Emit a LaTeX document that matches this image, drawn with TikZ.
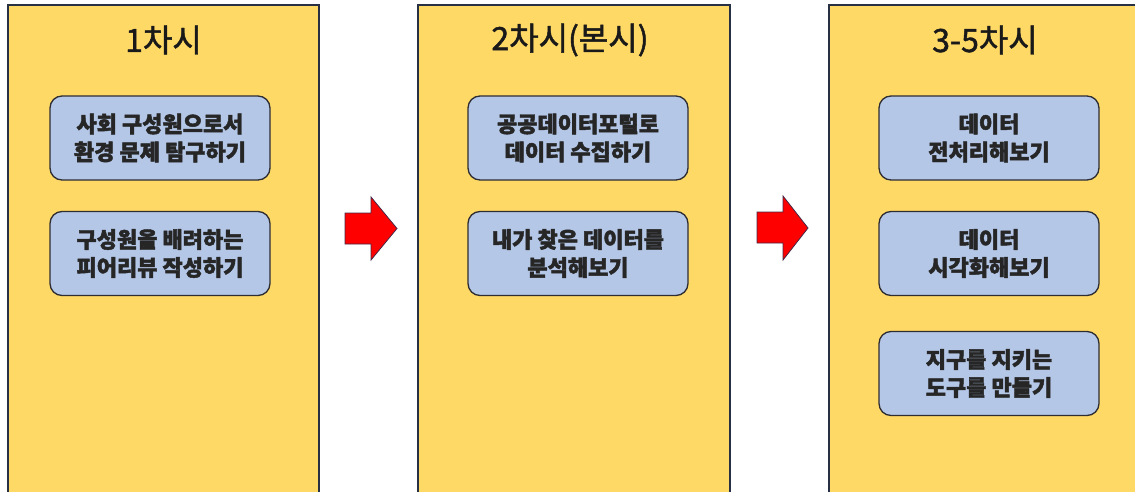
\documentclass[tikz,border=0pt]{standalone}
\usepackage{fontspec}
\newfontfamily\kr[BoldFeatures={FakeBold=2}]{Noto Sans CJK KR}
\newfontfamily\krt[FakeBold=1.5]{Noto Sans CJK KR}
\usetikzlibrary{positioning}
\definecolor{panelfill}{RGB}{255,217,102}
\definecolor{paneldraw}{RGB}{40,48,68}
\definecolor{boxfill}{RGB}{180,199,231}
\definecolor{boxdraw}{RGB}{45,45,50}
\definecolor{arrowred}{RGB}{255,0,0}
\definecolor{arrowdraw}{RGB}{70,40,70}
\tikzset{
  panel/.style={fill=panelfill, draw=paneldraw, line width=1.5pt},
  title/.style={font=\krt\fontsize{32}{36}\selectfont, text=black!90, anchor=center},
  stepbox/.style={draw=boxdraw, fill=boxfill, line width=1.3pt, rounded corners=12pt,
    minimum width=220pt, minimum height=84pt, align=center, inner sep=0pt,
    font=\kr\bfseries\fontsize{22}{28}\selectfont, text=black!85},
  blockarrow/.style={fill=arrowred, draw=arrowdraw, line width=0.8pt, line join=miter}
}
\begin{document}
\begin{tikzpicture}[x=1pt,y=-1pt]
\useasboundingbox (0,0) rectangle (1135,492);
\clip (0,0) rectangle (1135,492);
\fill[white] (0,0) rectangle (1135,492);
% panels
\draw[panel] (8,5) rectangle (319,520);
\draw[panel] (418,5) rectangle (730,520);
\draw[panel] (829,5) rectangle (1145,520);
% titles
\node[title] (t1) at (163.5,40) {1차시};
\node[title] (t2) at (570,40) {2차시(본시)};
\node[title] (t3) at (985,40) {3-5차시};
% boxes
\node[stepbox] (a1) at (160,138) {사회 구성원으로서\\환경 문제 탐구하기};
\node[stepbox] (a2) at (160,253.5) {구성원을 배려하는\\피어리뷰 작성하기};
\node[stepbox] (b1) at (578,138) {공공데이터포털로\\데이터 수집하기};
\node[stepbox] (b2) at (578,253.5) {내가 찾은 데이터를\\분석해보기};
\node[stepbox] (c1) at (989,138) {데이터\\전처리해보기};
\node[stepbox] (c2) at (989,253.5) {데이터\\시각화해보기};
\node[stepbox] (c3) at (989,373.5) {지구를 지키는\\도구를 만들기};
% block arrows
\draw[blockarrow] (345,213) -- (371,213) -- (371,197) -- (397,228.5) -- (371,260) -- (371,244) -- (345,244) -- cycle;
\draw[blockarrow] (757,212) -- (783,212) -- (783,196) -- (808,228) -- (783,260) -- (783,243) -- (757,243) -- cycle;
\end{tikzpicture}
\end{document}
